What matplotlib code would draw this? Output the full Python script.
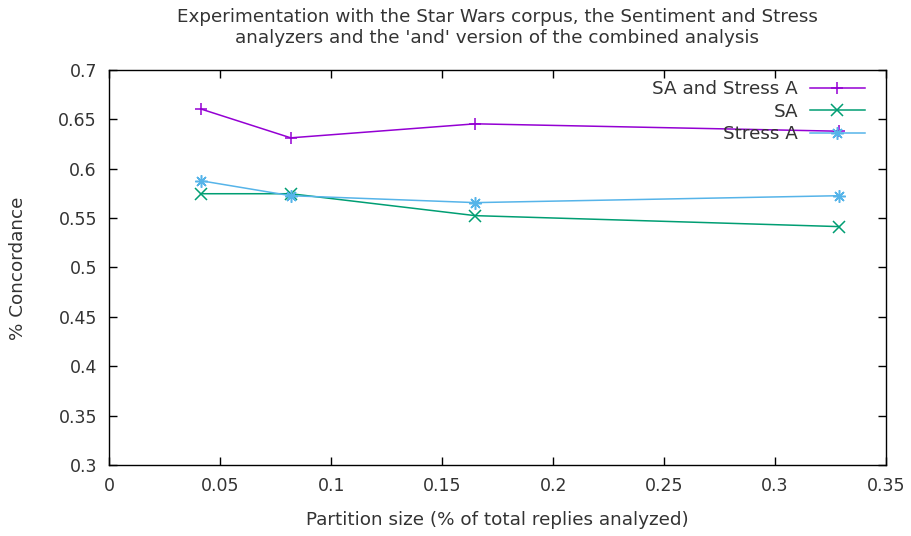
import numpy as np
import matplotlib
matplotlib.use("Agg")
import matplotlib.pyplot as plt

# partition sizes (fraction of total replies analyzed)
partition_size = [0.0411, 0.0817, 0.1649, 0.329]

# concordance per analyzer
sa_and_stress = [0.6606, 0.6313, 0.6455, 0.638]
sa = [0.5747, 0.5747, 0.5525, 0.5414]
stress = [0.5879, 0.5727, 0.5657, 0.5727]

labels = ["SA and Stress A", "SA", "Stress A"]
colors = ["#9400d3", "#009e73", "#56b4e9"]

xticks = [0, 0.05, 0.1, 0.15, 0.2, 0.25, 0.3, 0.35]
xticklabels = ["0", "0.05", "0.1", "0.15", "0.2", "0.25", "0.3", "0.35"]
yticks = [0.3, 0.35, 0.4, 0.45, 0.5, 0.55, 0.6, 0.65, 0.7]
yticklabels = ["0.3", "0.35", "0.4", "0.45", "0.5", "0.55", "0.6", "0.65", "0.7"]

TXT = "#333333"
FS_TICK = 12.5
FS = 13.2
plt.rcParams["font.family"] = "DejaVu Sans"

fig = plt.figure(figsize=(9.12, 5.36), dpi=100)
ax = fig.add_axes([0.12, 0.1325, 0.8515, 0.7369])

asterisk = (8, 2, 0)
markers = ["+", "x", asterisk]
for ys, lab, col, mk in zip([sa_and_stress, sa, stress], labels, colors, markers):
    ax.plot(partition_size, ys, color=col, marker=mk, markersize=9,
            markeredgewidth=1.1, linewidth=1.1, label=lab)

ax.set_xlim(0, 0.35)
ax.set_ylim(0.3, 0.7)
ax.set_xticks(xticks)
ax.set_xticklabels(xticklabels)
ax.set_yticks(yticks)
ax.set_yticklabels(yticklabels)
ax.tick_params(direction="in", top=True, right=True, length=6, width=1,
               labelsize=FS_TICK, labelcolor=TXT, color="black", pad=9)
for sp in ax.spines.values():
    sp.set_linewidth(1.0)

fig.text(497.5 / 912, 1 - 520 / 536, "Partition size (% of total replies analyzed)",
         fontsize=FS, color=TXT, ha="center", va="center")
fig.text(18 / 912, 1 - 268 / 536, "% Concordance", fontsize=FS, color=TXT,
         rotation=90, ha="center", va="center")
fig.text(497.5 / 912, 1 - 17 / 536,
         "Experimentation with the Star Wars corpus, the Sentiment and Stress",
         fontsize=FS, color=TXT, ha="center", va="center")
fig.text(497.5 / 912, 1 - 38 / 536,
         "analyzers and the 'and' version of the combined analysis",
         fontsize=FS, color=TXT, ha="center", va="center")

leg = ax.legend(loc="upper right", bbox_to_anchor=(865 / 912, 1 - 80 / 536),
                bbox_transform=fig.transFigure, frameon=False, markerfirst=False,
                numpoints=1, fontsize=FS, handlelength=3.0, labelspacing=0.25,
                borderpad=0, borderaxespad=0, handletextpad=0.65)
for t in leg.get_texts():
    t.set_color(TXT)
    t.set_ha("right")
leg._legend_box.align = "right"

fig.savefig("out.png", dpi=100)
